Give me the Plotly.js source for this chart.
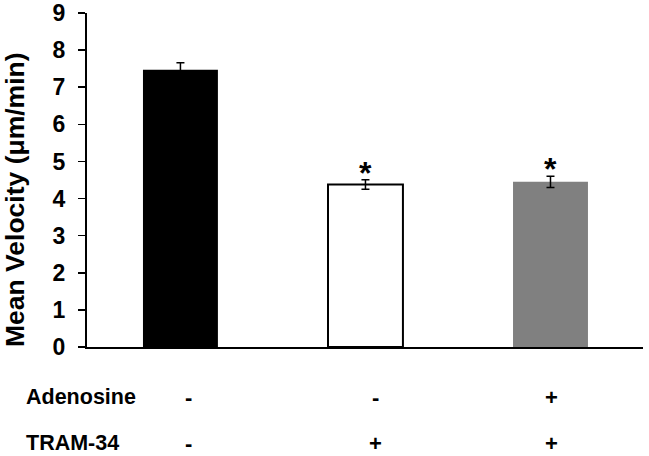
<!DOCTYPE html>
<html>
<head>
<meta charset="utf-8">
<script src="https://cdn.plot.ly/plotly-3.0.1.min.js"></script>
<style>html,body{margin:0;padding:0;background:#fff;}#chart{width:649px;height:456px;}</style>
</head>
<body>
<div id="chart"></div>
<script>
// Data
const categories = [0, 1, 2];
const meanVelocity = [7.47, 4.38, 4.45];
const semErrors = [0.19, 0.13, 0.15];
const significance = ['', '*', '*'];
const adenosine = ['-', '-', '+'];
const tram34 = ['-', '+', '+'];
const yTicks = [0, 1, 2, 3, 4, 5, 6, 7, 8, 9];

const FONT = 'Liberation Sans, Arial, sans-serif';
const barColors = ['#000000', '#ffffff', '#808080'];
const barLineWidths = [0, 2, 0];
const signShift = [8, 10, 1];

const trace = {
  type: 'bar',
  x: categories,
  y: meanVelocity,
  width: 0.405,
  marker: { color: barColors, line: { color: '#000', width: barLineWidths } },
  error_y: { type: 'data', array: semErrors, visible: true, color: '#000', thickness: 1.5, width: 4 },
  hoverinfo: 'none'
};

const annotations = [];
categories.forEach((c, i) => {
  if (significance[i]) {
    annotations.push({
      x: c, y: meanVelocity[i] + semErrors[i], xref: 'x', yref: 'y',
      text: '<b>' + significance[i] + '</b>', showarrow: false,
      yanchor: 'middle', yshift: 7,
      font: { family: FONT, size: 32, color: '#000' }
    });
  }
  annotations.push({
    x: c, y: 0, xref: 'x', yref: 'paper', text: '<b>' + adenosine[i] + '</b>',
    showarrow: false, yanchor: 'middle', yshift: -50, xshift: signShift[i],
    font: { family: FONT, size: 22, color: '#000' }
  });
  annotations.push({
    x: c, y: 0, xref: 'x', yref: 'paper', text: '<b>' + tram34[i] + '</b>',
    showarrow: false, yanchor: 'middle', yshift: -96, xshift: signShift[i],
    font: { family: FONT, size: 22, color: '#000' }
  });
});
annotations.push({
  x: 0, y: 0, xref: 'paper', yref: 'paper', text: '<b>Adenosine</b>',
  showarrow: false, xanchor: 'left', yanchor: 'middle', xshift: -63, yshift: -50,
  font: { family: FONT, size: 21.5, color: '#000' }
});
annotations.push({
  x: 0, y: 0, xref: 'paper', yref: 'paper', text: '<b>TRAM-34</b>',
  showarrow: false, xanchor: 'left', yanchor: 'middle', xshift: -63, yshift: -96,
  font: { family: FONT, size: 21.5, color: '#000' }
});
annotations.push({
  x: 0, y: 0.5, xref: 'paper', yref: 'paper', text: '<b>Mean Velocity (μm/min)</b>',
  showarrow: false, textangle: -90, xanchor: 'center', yanchor: 'middle',
  xshift: -72, yshift: -20,
  font: { family: FONT, size: 26.5, color: '#000' }
});

const layout = {
  width: 649, height: 456,
  margin: { l: 87, r: 6, t: 13, b: 109, pad: 0 },
  paper_bgcolor: '#fff', plot_bgcolor: '#fff',
  showlegend: false,
  xaxis: {
    range: [-0.505, 2.5], showticklabels: false, ticks: '', showgrid: false, zeroline: false,
    showline: true, linecolor: '#000', linewidth: 2, fixedrange: true
  },
  yaxis: {
    range: [0, 9], tickvals: yTicks, ticktext: yTicks.map(v => '<b>' + v + '</b>'),
    ticks: 'outside', ticklen: 7, tickwidth: 1.5, tickcolor: '#000',
    showgrid: false, zeroline: false, showline: true, linecolor: '#000', linewidth: 2,
    tickfont: { family: FONT, size: 23, color: '#000' }, ticklabelstandoff: 8,
    fixedrange: true
  },
  annotations: annotations
};

Plotly.newPlot('chart', [trace], layout, { displayModeBar: false, staticPlot: true });
</script>
</body>
</html>
